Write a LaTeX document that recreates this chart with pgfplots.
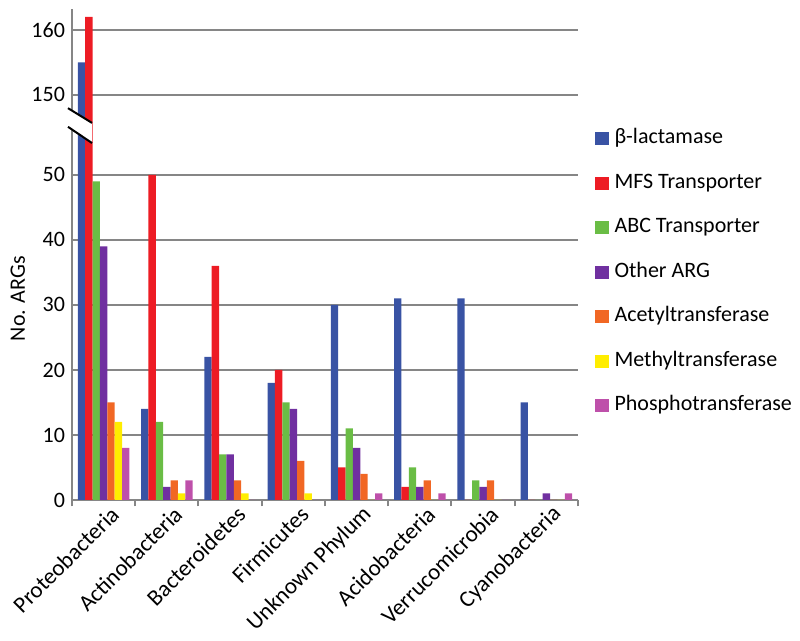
\documentclass[border=0pt]{standalone}
\usepackage{pgfplots}
\usepackage{pgfplotstable}
\pgfplotsset{compat=1.18}
\usepackage{fontspec}
\setmainfont{Carlito}
\definecolor{cA}{RGB}{57,83,164}
\definecolor{cB}{RGB}{237,28,36}
\definecolor{cC}{RGB}{106,189,69}
\definecolor{cD}{RGB}{112,48,160}
\definecolor{cE}{RGB}{241,103,36}
\definecolor{cF}{RGB}{255,237,0}
\definecolor{cG}{RGB}{190,80,170}
\definecolor{gridgray}{RGB}{134,134,134}
\pgfplotstableread{
x bl mfs abc oth ace met pho
0 155 162 49 39 15 12 8
1 14 50 12 2 3 1 3
2 22 36 7 7 3 1 0
3 18 20 15 14 6 1 0
4 30 5 11 8 4 0 1
5 31 2 5 2 3 0 1
6 31 0 3 2 3 0 0
7 15 0 0 1 0 0 1
}\datatable
\pgfplotsset{myleg/.style={legend image code/.code={\fill[##1] (0pt,-3.3pt) rectangle (6.6pt,3.3pt);}}}
\begin{document}
\begin{tikzpicture}
\begin{axis}[
  name=ax, at={(0,0)}, anchor=south west,
  set layers=standard,
  scale only axis, width=253pt, height=245.5pt,
  xmin=-0.5, xmax=7.5, ymin=0, ymax=163.2,
  y coord trafo/.code={\pgfmathparse{#1>100?#1-87.69:#1}},
  y coord inv trafo/.code={\pgfmathparse{#1>62.31?#1+87.69:#1}},
  ytick={0,10,20,30,40,50,150,160},
  yticklabels={0,10,20,30,40,50,150,160},
  xtick={0,...,7},
  xticklabels={Proteobacteria,Actinobacteria,Bacteroidetes,Firmicutes,Unknown Phylum,Acidobacteria,Verrucomicrobia,Cyanobacteria},
  minor xtick={-0.5,0.5,...,7.5},
  major tick length=0pt, minor tick length=3.2pt, tick align=outside,
  minor tick style={draw=gridgray, line width=1pt},
  axis x line*=bottom, axis y line*=left,
  axis line style={draw=gridgray, line width=1pt},
  ymajorgrids, major grid style={draw=gridgray, line width=1pt},
  /pgf/number format/assume math mode=true,
  ticklabel style={font=\fontsize{11}{13}\selectfont},
  xticklabel style={xshift=6.5pt, yshift=-4.5pt, rotate=45, anchor=east, inner sep=1pt, font=\fontsize{11.5}{13}\selectfont},
  ylabel={No. ARGs},
  ylabel style={at={(axis description cs:-0.107,0.41)}, anchor=center, font=\fontsize{11}{12}\selectfont},
  legend style={at={(1.0217,0.765)}, anchor=north west, draw=none, fill=none,
    font=\fontsize{11}{13}\selectfont, row sep=12.25pt, column sep=3pt,
    nodes={inner sep=0pt, text height=7.5pt, text depth=2.5pt}},
  legend cell align=left,
]
\addplot[ybar, bar width=0.1166, bar shift=-0.35, fill=cA, draw=none, myleg] table[x=x,y=bl]{\datatable};
\addplot[ybar, bar width=0.1166, bar shift=-0.2333, fill=cB, draw=none, myleg] table[x=x,y=mfs]{\datatable};
\addplot[ybar, bar width=0.1166, bar shift=-0.1166, fill=cC, draw=none, myleg] table[x=x,y=abc]{\datatable};
\addplot[ybar, bar width=0.1166, bar shift=0, fill=cD, draw=none, myleg] table[x=x,y=oth]{\datatable};
\addplot[ybar, bar width=0.1166, bar shift=0.1166, fill=cE, draw=none, myleg] table[x=x,y=ace]{\datatable};
\addplot[ybar, bar width=0.1166, bar shift=0.2333, fill=cF, draw=none, myleg] table[x=x,y=met]{\datatable};
\addplot[ybar, bar width=0.1166, bar shift=0.35, fill=cG, draw=none, myleg] table[x=x,y=pho]{\datatable};
\legend{β-lactamase,MFS Transporter,ABC Transporter,Other ARG,Acetyltransferase,Methyltransferase,Phosphotransferase}
\begin{pgfonlayer}{axis foreground}
\fill[white] (rel axis cs:-0.02,0.8045) -- (rel axis cs:0.0395,0.768) -- (rel axis cs:0.0395,0.727) -- (rel axis cs:-0.02,0.7665) -- cycle;
\draw[black, line width=1pt] (rel axis cs:-0.0079,0.798) -- (rel axis cs:0.0395,0.768);
\draw[black, line width=1pt] (rel axis cs:-0.0079,0.760) -- (rel axis cs:0.0395,0.727);
\end{pgfonlayer}
\end{axis}
\pgfresetboundingbox
\path[use as bounding box] (-36pt,-70.5pt) rectangle (364pt,250pt);
\end{tikzpicture}
\end{document}
